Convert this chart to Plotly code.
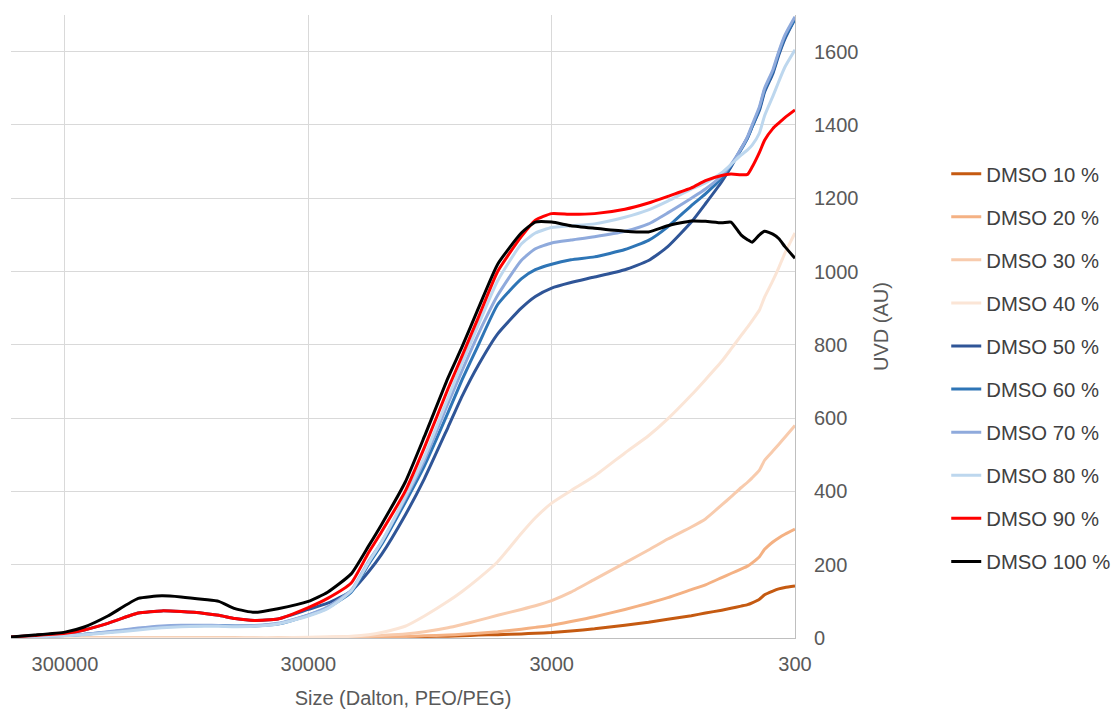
import plotly.graph_objects as go

SIZES = [500000, 400000, 300000, 250000, 200000, 150000, 120000, 100000, 80000, 70000,
         60000, 50000, 40000, 30000, 25000, 20000, 17000, 15000, 12000, 10000,
         8000, 7000, 6000, 5000, 4000, 3500, 3000, 2500, 2000, 1500,
         1200, 1000, 800, 700, 600, 550, 500, 470, 450, 420,
         400, 370, 350, 330, 300]

DMSO10 = [0, 0, 0, 0, 0, 0, 0, 0, 0, 0, 0, 0, 0, 1, 1, 1, 2, 2, 3, 4,
          5, 6, 8, 9, 11, 13, 15, 19, 25, 35, 43, 51, 61, 68, 76, 81, 87, 91, 96, 106,
          118, 128, 134, 138, 142]
DMSO20 = [0, 0, 0, 0, 0, 0, 0, 0, 0, 0, 0, 0, 0, 1, 1, 2, 2, 3, 4, 6,
          8, 10, 13, 17, 24, 29, 35, 45, 58, 78, 95, 110, 132, 145, 165, 176, 188, 196, 205, 222,
          242, 262, 273, 283, 297]
DMSO30 = [0, 0, 0, 0, 0, 0, 0, 0, 0, 0, 0, 0, 0, 1, 2, 3, 5, 7, 11, 17,
          28, 37, 48, 62, 78, 88, 102, 125, 160, 205, 240, 270, 303, 325, 363, 385, 410, 425, 437, 458,
          485, 510, 528, 548, 580]
DMSO40 = [0, 0, 0, 0, 0, 0, 0, 0, 0, 0, 0, 1, 1, 2, 3, 5, 9, 15, 32, 60,
          100, 127, 162, 208, 285, 328, 368, 402, 442, 505, 552, 598, 663, 705, 755, 788, 825, 848, 866, 895,
          930, 975, 1010, 1050, 1105]
DMSO50 = [3, 7, 13, 22, 40, 68, 74, 72, 67, 62, 53, 48, 52, 78, 95, 128, 180, 228, 335, 435,
          575, 660, 745, 830, 900, 932, 955, 970, 985, 1005, 1030, 1068, 1135, 1185, 1245, 1285, 1335, 1365, 1395, 1440,
          1490, 1540, 1590, 1635, 1690]
DMSO60 = [2, 4, 7, 10, 16, 25, 31, 33, 34, 34, 33, 33, 38, 62, 82, 125, 200, 255, 370, 470,
          615, 705, 800, 910, 980, 1005, 1020, 1032, 1040, 1060, 1085, 1122, 1180, 1212, 1255, 1288, 1332, 1365, 1395, 1445,
          1495, 1545, 1595, 1640, 1688]
DMSO70 = [2, 4, 7, 10, 17, 27, 33, 35, 35, 34, 33, 34, 40, 63, 85, 130, 208, 262, 380, 485,
          640, 730, 830, 935, 1030, 1062, 1078, 1086, 1095, 1110, 1130, 1160, 1200, 1225, 1262, 1292, 1335, 1368, 1400, 1450,
          1500, 1550, 1600, 1645, 1695]
DMSO80 = [1, 3, 6, 9, 14, 22, 28, 31, 32, 32, 31, 32, 38, 60, 80, 128, 205, 262, 385, 495,
          655, 750, 855, 975, 1075, 1105, 1120, 1125, 1130, 1148, 1168, 1192, 1225, 1242, 1270, 1292, 1318, 1332, 1345, 1378,
          1425, 1478, 1518, 1558, 1605]
DMSO90 = [3, 7, 13, 22, 40, 68, 74, 72, 67, 62, 53, 48, 52, 83, 108, 150, 232, 290, 400, 520,
          680, 770, 875, 1000, 1095, 1140, 1158, 1156, 1158, 1170, 1187, 1205, 1228, 1248, 1262, 1266, 1264, 1265, 1285, 1325,
          1358, 1390, 1405, 1420, 1441]
DMSO100 = [3, 8, 16, 30, 60, 108, 115, 112, 105, 100, 80, 70, 80, 100, 125, 175, 250, 310, 425, 550,
           710, 795, 900, 1020, 1105, 1135, 1135, 1125, 1118, 1110, 1108, 1125, 1138, 1137, 1133, 1135, 1100, 1087, 1080, 1100,
           1110, 1102, 1090, 1068, 1036]

SERIES = [
    ("DMSO 10 %", DMSO10, "#C55A11"),
    ("DMSO 20 %", DMSO20, "#F4B183"),
    ("DMSO 30 %", DMSO30, "#F8CBAD"),
    ("DMSO 40 %", DMSO40, "#FBE5D6"),
    ("DMSO 50 %", DMSO50, "#2F5597"),
    ("DMSO 60 %", DMSO60, "#2E75B6"),
    ("DMSO 70 %", DMSO70, "#8FAADC"),
    ("DMSO 80 %", DMSO80, "#BDD7EE"),
    ("DMSO 90 %", DMSO90, "#FF0000"),
    ("DMSO 100 %", DMSO100, "#000000"),
]

X_TICKS = [300000, 30000, 3000, 300]
X_TICK_TEXT = ["300000", "30000", "3000", "300"]
Y_TICKS = [0, 200, 400, 600, 800, 1000, 1200, 1400, 1600]

FONT = "Liberation Sans"
GREY = "#595959"

fig = go.Figure()
for i, (name, vals, col) in enumerate(SERIES):
    fig.add_trace(go.Scatter(
        x=SIZES, y=vals, name=name, mode="lines",
        line=dict(color=col, width=3, shape="spline", smoothing=0.5),
        legendgroup=f"g{i}",
    ))

fig.update_layout(
    width=1111, height=703,
    margin=dict(l=3, r=324, t=7, b=73),
    plot_bgcolor="white", paper_bgcolor="white",
    font=dict(family=FONT, size=20, color=GREY),
    showlegend=True,
    legend=dict(
        xref="container", yref="container",
        x=0.8445, y=0.488, xanchor="left", yanchor="middle",
        font=dict(family=FONT, size=20.3, color="#404040"),
        tracegroupgap=13.7, bgcolor="rgba(0,0,0,0)",
        maxheight=650,
    ),
    xaxis=dict(
        type="log", range=[5.699, 2.4771],
        tickvals=X_TICKS, ticktext=X_TICK_TEXT,
        showgrid=True, gridcolor="#D9D9D9", gridwidth=1,
        showline=True, linecolor="#BFBFBF", linewidth=1,
        ticks="", ticklabelstandoff=8,
        tickfont=dict(size=20, color=GREY),
        title=dict(text="Size (Dalton, PEO/PEG)", font=dict(size=20, color=GREY), standoff=16),
        zeroline=False, automargin=False,
    ),
    yaxis=dict(
        side="right", range=[0, 1700],
        tickvals=Y_TICKS,
        showgrid=True, gridcolor="#D9D9D9", gridwidth=1,
        showline=True, linecolor="#BFBFBF", linewidth=1,
        ticks="", ticklabelstandoff=14,
        tickfont=dict(size=20, color=GREY),
        title=dict(text="UVD (AU)", font=dict(size=20, color=GREY), standoff=16),
        zeroline=False, automargin=False,
    ),
)

fig.write_html("out.html")
